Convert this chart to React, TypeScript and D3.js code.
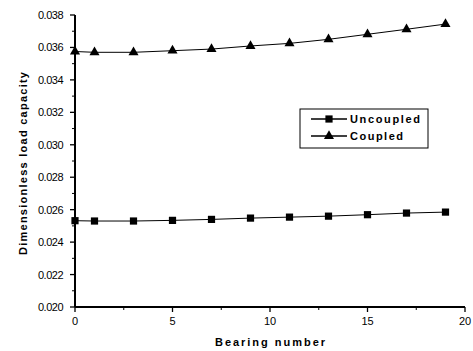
import React from 'react'
import * as d3 from 'd3'

const bearingNumbers = [0, 1, 3, 5, 7, 9, 11, 13, 15, 17, 19]
const uncoupled = [0.02532, 0.0253, 0.0253, 0.02534, 0.0254, 0.02548, 0.02554, 0.0256, 0.02569, 0.02579, 0.02585]
const coupled = [0.03575, 0.0357, 0.0357, 0.0358, 0.0359, 0.03609, 0.03625, 0.0365, 0.03681, 0.03712, 0.03744]
const xTicks = [0, 5, 10, 15, 20]
const yTicks = [0.02, 0.022, 0.024, 0.026, 0.028, 0.03, 0.032, 0.034, 0.036, 0.038]
const seriesNames = ['Uncoupled', 'Coupled']

const W = 473
const H = 351
const m = {left: 75, right: 8, top: 15, bottom: 44}

export default function App() {
  const x = d3.scaleLinear().domain([0, 20]).range([m.left, W - m.right])
  const y = d3.scaleLinear().domain([0.02, 0.038]).range([H - m.bottom, m.top])

  const line = d3
    .line<number>()
    .x((d, i) => x(bearingNumbers[i]))
    .y(d => y(d))

  const tri = d3.symbol().type(d3.symbolTriangle).size(44)
  const sq = d3.symbol().type(d3.symbolSquare).size(52)

  const x0 = x(0)
  const yBase = y(0.02)
  const font = 'Arial, "Liberation Sans", sans-serif'

  // minor ticks halfway between majors
  const xMinor = d3.range(2.5, 20, 5)
  const yMinor = d3.range(0.021, 0.038, 0.002)

  return (
    <svg width={W} height={H} style={{position: 'absolute', left: 0, top: 0, background: '#fff'}}>
      <g fontFamily={font} fill="#000">
        {/* y axis */}
        <line x1={x0} x2={x0} y1={y(0.038)} y2={yBase} stroke="#000" strokeWidth={2} />
        {yTicks.map(t => (
          <g key={t}>
            <line x1={x0 - 5} x2={x0} y1={y(t)} y2={y(t)} stroke="#000" strokeWidth={1.3} />
            <text x={63} y={y(t) + 4} fontSize={11} textAnchor="end" letterSpacing={-0.5}>
              {d3.format('.3f')(t)}
            </text>
          </g>
        ))}
        {yMinor.map(t => (
          <line key={t} x1={x0 - 3} x2={x0} y1={y(t)} y2={y(t)} stroke="#000" strokeWidth={1} />
        ))}

        {/* x axis */}
        <line x1={x0} x2={x(20)} y1={yBase} y2={yBase} stroke="#000" strokeWidth={2} />
        {xTicks.map(t => (
          <g key={t}>
            <line x1={x(t)} x2={x(t)} y1={yBase} y2={yBase + 5} stroke="#000" strokeWidth={1.3} />
            <text x={x(t)} y={325} fontSize={11} textAnchor="middle">
              {t}
            </text>
          </g>
        ))}
        {xMinor.map(t => (
          <line key={t} x1={x(t)} x2={x(t)} y1={yBase} y2={yBase + 3} stroke="#000" strokeWidth={1} />
        ))}

        <text x={x(10) - 55} y={346} fontSize={11} fontWeight="bold" textLength={110} lengthAdjust="spacing">
          Bearing number
        </text>
        <text
          transform={`translate(27,255) rotate(-90)`}
          fontSize={11}
          fontWeight="bold"
          textLength={183}
          lengthAdjust="spacing"
        >
          Dimensionless load capacity
        </text>

        {/* series */}
        <path d={line(uncoupled) || ''} fill="none" stroke="#000" strokeWidth={1} />
        <path d={line(coupled) || ''} fill="none" stroke="#000" strokeWidth={1} />
        {uncoupled.map((v, i) => (
          <path key={'u' + i} d={sq() || ''} transform={`translate(${x(bearingNumbers[i])},${y(v)})`} />
        ))}
        {coupled.map((v, i) => (
          <path key={'c' + i} d={tri() || ''} transform={`translate(${x(bearingNumbers[i])},${y(v)})`} />
        ))}

        {/* legend */}
        <rect x={300} y={109} width={128} height={39} fill="#fff" stroke="#000" strokeWidth={1} />
        {seriesNames.map((name, i) => {
          const ly = 119 + i * 17
          return (
            <g key={name}>
              <line x1={311} x2={347} y1={ly} y2={ly} stroke="#000" strokeWidth={1.3} />
              <path d={(i === 0 ? sq : tri)() || ''} transform={`translate(329,${ly})`} />
              <text
                x={350}
                y={ly + 4}
                fontSize={11}
                fontWeight="bold"
                textLength={i === 0 ? 70 : 53}
                lengthAdjust="spacing"
              >
                {name}
              </text>
            </g>
          )
        })}
      </g>
    </svg>
  )
}
